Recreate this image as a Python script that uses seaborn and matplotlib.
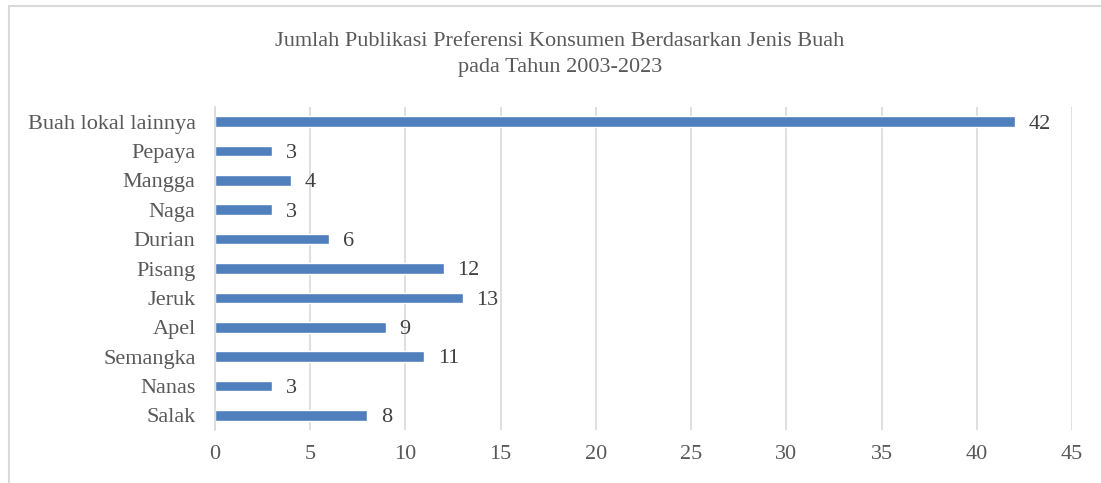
import matplotlib
matplotlib.use("Agg")
import matplotlib.pyplot as plt
import seaborn as sns
import pandas as pd
from matplotlib.patches import Rectangle

categories = ["Buah lokal lainnya", "Pepaya", "Mangga", "Naga", "Durian", "Pisang",
              "Jeruk", "Apel", "Semangka", "Nanas", "Salak"]
values = [42, 3, 4, 3, 6, 12, 13, 9, 11, 3, 8]
xticks = [0, 5, 10, 15, 20, 25, 30, 35, 40, 45]
title = "Jumlah Publikasi Preferensi Konsumen Berdasarkan Jenis Buah\npada Tahun 2003-2023"

df = pd.DataFrame({"cat": categories, "val": values})

sns.set_theme(style="white")
plt.rcParams['font.family'] = ['Liberation Serif', 'DejaVu Serif']

fig = plt.figure(figsize=(11.01, 4.83), dpi=100)
W, H = 1101, 483
ax = fig.add_axes([215 / W, 1 - 430 / H, (1072 - 215) / W, (430 - 107) / H])

sns.barplot(data=df, x="val", y="cat", orient="h", color="#4F7FBD", saturation=1,
            width=0.36, ax=ax, order=categories)

ax.set_xlim(0, 45)
ax.set_xticks(xticks)
ax.set_xticklabels([str(t) for t in xticks])
ax.set_xlabel("")
ax.set_ylabel("")
ax.grid(axis="x", color="#D9D9D9", linewidth=1.2)
ax.set_axisbelow(True)
for s in ["top", "right", "bottom"]:
    ax.spines[s].set_visible(False)
ax.spines["left"].set_color("#D9D9D9")
ax.spines["left"].set_linewidth(1.2)
ax.tick_params(axis="both", length=0, labelsize=16, colors="#595959")
ax.tick_params(axis="x", pad=11)
ax.tick_params(axis="y", pad=14)

for i, v in enumerate(values):
    ax.text(v + 0.7, i + 0.08, str(v), va="center", ha="left", fontsize=16, color="#404040")

fig.text(560 / W, 1 - 54.5 / H, title, ha="center", va="center", fontsize=16,
         color="#595959", linespacing=1.55)

fig.patches.append(Rectangle((9 / W, -0.1), 1.2, 1 - 6 / H + 0.1, transform=fig.transFigure,
                             fill=False, edgecolor="#D9D9D9", linewidth=1.5))

fig.savefig("out.png", dpi=100, facecolor="white")
